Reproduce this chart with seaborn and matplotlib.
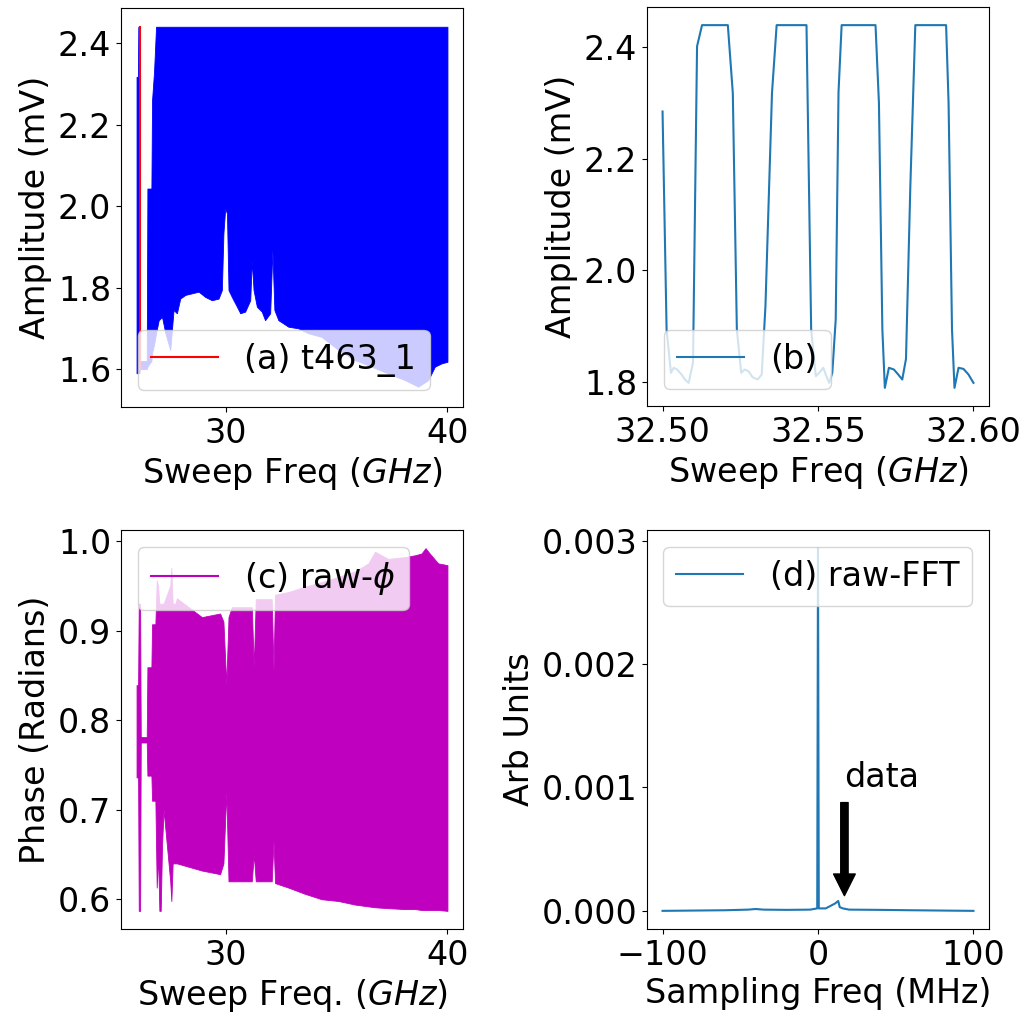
import numpy as np
import matplotlib
matplotlib.use("Agg")
import matplotlib.pyplot as plt
import seaborn as sns

# (a) envelope of the dense amplitude sweep (GHz, mV)
a_freq = [25.97, 26.03, 26.05, 26.10, 26.12, 26.43, 26.46, 26.64, 26.67, 26.76,
          26.85, 26.97, 27.12, 27.27, 27.49, 27.64, 27.79, 27.94, 28.17, 28.47,
          28.77, 29.07, 29.37, 29.67, 29.82, 29.89, 29.97, 30.05, 30.12, 30.27,
          30.50, 30.65, 30.87, 31.10, 31.17, 31.25, 31.40, 31.62, 31.77, 32.00,
          32.10, 32.19, 32.37, 32.60, 32.82, 33.27, 33.72, 34.32, 35.08, 35.83,
          36.58, 37.33, 38.08, 38.68, 39.13, 39.43, 39.73, 40.00]
a_high = [2.317, 2.317, 2.44, 2.44, 1.62, 1.62, 2.043, 2.043, 2.26, 2.33,
          2.44, 2.44, 2.44, 2.44, 2.44, 2.44, 2.44, 2.44, 2.44, 2.44,
          2.44, 2.44, 2.44, 2.44, 2.44, 2.44, 2.44, 2.44, 2.44, 2.44,
          2.44, 2.44, 2.44, 2.44, 2.44, 2.44, 2.44, 2.44, 2.44, 2.44,
          2.44, 2.44, 2.44, 2.44, 2.44, 2.44, 2.44, 2.44, 2.44, 2.44,
          2.44, 2.44, 2.44, 2.44, 2.44, 2.44, 2.44, 2.44]
a_low = [1.590, 1.590, 1.590, 1.590, 1.600, 1.600, 1.606, 1.620, 1.640, 1.660,
         1.688, 1.720, 1.728, 1.688, 1.647, 1.745, 1.737, 1.773, 1.782, 1.786,
         1.790, 1.777, 1.769, 1.773, 1.794, 1.933, 1.994, 1.982, 1.794, 1.777,
         1.753, 1.737, 1.741, 1.769, 1.867, 1.794, 1.753, 1.741, 1.720, 1.737,
         1.892, 1.745, 1.720, 1.712, 1.704, 1.700, 1.688, 1.679, 1.647, 1.622,
         1.606, 1.589, 1.573, 1.557, 1.573, 1.606, 1.614, 1.618]
# visible bit of the red trace (t463_1) under the blue one
red_freq = [26.12, 26.12]
red_amp = [1.60, 2.44]

# (b) zoom 32.50-32.60 GHz
b_freq = [32.5000, 32.5013, 32.5027, 32.5036, 32.5047, 32.5061, 32.5072, 32.5084,
          32.5098, 32.5111, 32.5127, 32.5210, 32.5226, 32.5239, 32.5253, 32.5264,
          32.5276, 32.5290, 32.5306, 32.5319, 32.5331, 32.5352, 32.5367, 32.5463,
          32.5478, 32.5493, 32.5504, 32.5517, 32.5527, 32.5536, 32.5546, 32.5557,
          32.5566, 32.5576, 32.5685, 32.5696, 32.5707, 32.5715, 32.5728, 32.5744,
          32.5758, 32.5771, 32.5783, 32.5797, 32.5813, 32.5912, 32.5920, 32.5931,
          32.5939, 32.5952, 32.5968, 32.5984, 32.6000]
b_amp = [2.285, 1.894, 1.816, 1.825, 1.822, 1.813, 1.804, 1.798,
         1.834, 2.402, 2.44, 2.44, 2.318, 1.894, 1.816, 1.822,
         1.819, 1.808, 1.804, 1.813, 1.936, 2.318, 2.44, 2.44,
         1.894, 1.810, 1.816, 1.825, 1.810, 1.798, 1.816, 1.912,
         2.320, 2.44, 2.44, 2.300, 1.894, 1.789, 1.825, 1.822,
         1.813, 1.804, 1.841, 2.151, 2.44, 2.44, 2.300, 1.894,
         1.789, 1.825, 1.823, 1.813, 1.798]

# (c) envelope of the raw phase (radians)
c_freq = [25.97, 26.04, 26.07, 26.13, 26.16, 26.43, 26.46, 26.64, 26.67, 26.82,
          26.88, 26.94, 27.00, 27.06, 27.12, 27.19, 27.49, 27.54, 27.60, 27.72,
          27.79, 28.92, 29.74, 29.89, 30.02, 30.12, 30.27, 31.17, 31.26, 31.35,
          32.07, 32.15, 32.22, 32.82, 33.57, 34.32, 35.08, 35.83, 36.43, 36.73,
          37.33, 38.08, 38.53, 38.83, 39.01, 39.20, 39.58, 40.00]
c_high = [0.839, 0.839, 0.930, 0.930, 0.781, 0.781, 0.859, 0.859, 0.907, 0.907,
          0.956, 0.950, 0.930, 0.930, 0.930, 0.930, 0.950, 0.970, 0.930, 0.930,
          0.936, 0.915, 0.919, 0.910, 0.840, 0.915, 0.926, 0.926, 0.860, 0.935,
          0.935, 0.856, 0.940, 0.943, 0.949, 0.954, 0.960, 0.966, 0.975, 0.988,
          0.980, 0.982, 0.984, 0.986, 0.992, 0.986, 0.975, 0.973]
c_low = [0.736, 0.736, 0.587, 0.587, 0.775, 0.775, 0.738, 0.738, 0.710, 0.710,
         0.613, 0.650, 0.587, 0.587, 0.660, 0.700, 0.620, 0.598, 0.640, 0.640,
         0.640, 0.632, 0.628, 0.640, 0.720, 0.620, 0.620, 0.620, 0.650, 0.620,
         0.620, 0.665, 0.618, 0.613, 0.606, 0.600, 0.598, 0.594, 0.592, 0.591,
         0.590, 0.589, 0.589, 0.588, 0.588, 0.588, 0.588, 0.587]

# (d) raw FFT
d_freq = [-100, -60, -45, -40, -35, -20, -5, -0.5, 0, 0.5, 5, 8, 11, 13, 14, 16, 20, 40, 60, 100]
d_amp = [0, 0.000005, 0.00001, 0.000015, 0.00001, 0.000008, 0.00001, 0.00002, 0.00294,
         0.00002, 0.00002, 0.00004, 0.00006, 0.00008, 0.00003, 0.00002, 0.00001,
         0.000008, 0.000005, 0]

plt.rcParams['font.size'] = 24
plt.rcParams['font.family'] = ['DejaVu Sans']

W, H = 1026, 1013
fig = plt.figure(figsize=(W / 100, H / 100), dpi=100)

def rect(left, top, w=342, h=399):
    return [left / W, (H - top - h) / H, w / W, h / H]

ax_a = fig.add_axes(rect(121, 8))
ax_b = fig.add_axes(rect(647, 7))
ax_c = fig.add_axes(rect(121, 530))
ax_d = fig.add_axes(rect(647, 530))

# (a)
sns.lineplot(x=red_freq, y=red_amp, color='red', estimator=None, sort=False,
             ax=ax_a, label='(a) t463_1')
ax_a.fill_between(a_freq, a_low, a_high, color='b', linewidth=0.6)
ax_a.set_xlabel('Sweep Freq ($GHz$)')
ax_a.set_ylabel('Amplitude (mV)')
ax_a.set_ylim(1.507, 2.486)
ax_a.legend(loc='lower left')

# (b)
sns.lineplot(x=b_freq, y=b_amp, ax=ax_b, label='(b)')
ax_b.set_xlabel('Sweep Freq ($GHz$)')
ax_b.set_ylabel('Amplitude (mV)')
ax_b.set_xticks([32.50, 32.55, 32.60])
ax_b.set_xticklabels(['32.50', '32.55', '32.60'])
ax_b.legend(loc='lower left')

# (c)
sns.lineplot(x=[c_freq[0]], y=[c_high[0]], color='m', ax=ax_c, label=r'(c) raw-$\phi$')
ax_c.fill_between(c_freq, c_low, c_high, color='m', linewidth=0.6)
ax_c.set_xlabel('Sweep Freq. ($GHz$)')
ax_c.set_ylabel('Phase (Radians)')
ax_c.legend(loc='upper left')

# (d)
sns.lineplot(x=d_freq, y=d_amp, ax=ax_d, label='(d) raw-FFT')
ax_d.annotate('data', xy=(17, 0.00008), xytext=(17, 0.001),
              arrowprops=dict(facecolor='black', shrink=0.05, width=5.3,
                              headwidth=15.6, headlength=15.6))
ax_d.set_xlabel('Sampling Freq (MHz)')
ax_d.set_ylabel('Arb Units')
ax_d.set_yticks([0.000, 0.001, 0.002, 0.003])
ax_d.legend(loc='upper right')

for ax in (ax_a, ax_c):
    ax.set_xticks([30, 40])

fig.savefig('out.png', dpi=100)
